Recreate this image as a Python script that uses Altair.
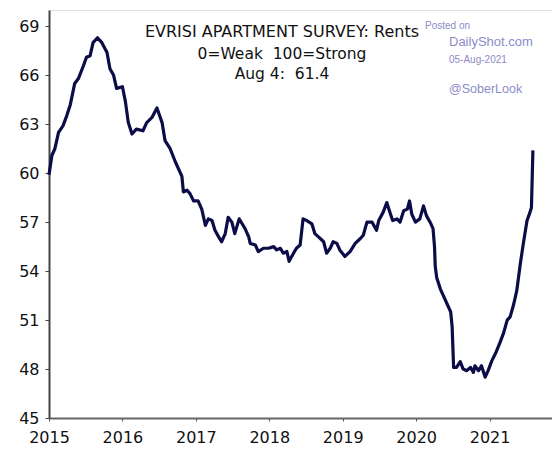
import altair as alt
import pandas as pd

# decimal-year positions and survey readings
years = [
    2015.00, 2015.04, 2015.08, 2015.13, 2015.19, 2015.24, 2015.29, 2015.35, 2015.40, 2015.47,
    2015.51, 2015.56, 2015.60, 2015.66, 2015.72, 2015.79, 2015.83, 2015.88, 2015.92, 2016.00,
    2016.04, 2016.08, 2016.13, 2016.19, 2016.28, 2016.33, 2016.40, 2016.47, 2016.54, 2016.58,
    2016.65, 2016.72, 2016.81, 2016.83, 2016.88, 2016.92, 2016.97, 2017.03, 2017.08, 2017.13,
    2017.17, 2017.22, 2017.26, 2017.31, 2017.35, 2017.40, 2017.44, 2017.49, 2017.53, 2017.59,
    2017.63, 2017.67, 2017.72, 2017.74, 2017.81, 2017.85, 2017.92, 2017.99, 2018.06, 2018.10,
    2018.15, 2018.19, 2018.24, 2018.27, 2018.33, 2018.37, 2018.42, 2018.46, 2018.51, 2018.58,
    2018.62, 2018.67, 2018.74, 2018.78, 2018.83, 2018.87, 2018.92, 2018.96, 2019.03, 2019.10,
    2019.17, 2019.24, 2019.28, 2019.33, 2019.40, 2019.46, 2019.49, 2019.55, 2019.60, 2019.65,
    2019.68, 2019.74, 2019.78, 2019.83, 2019.88, 2019.91, 2019.94, 2019.99, 2020.05, 2020.10,
    2020.14, 2020.19, 2020.23, 2020.25, 2020.26, 2020.28, 2020.33, 2020.37, 2020.42, 2020.47,
    2020.49, 2020.51, 2020.55, 2020.60, 2020.64, 2020.69, 2020.74, 2020.78, 2020.80, 2020.85,
    2020.89, 2020.94, 2020.98, 2021.03, 2021.08, 2021.14, 2021.19, 2021.24, 2021.28, 2021.33,
    2021.37, 2021.42, 2021.46, 2021.51, 2021.55, 2021.57, 2021.59,
]
rents = [
    59.9, 61.1, 61.5, 62.5, 62.9, 63.5, 64.2, 65.5, 65.8, 66.6,
    67.1, 67.2, 68.0, 68.3, 68.0, 67.4, 66.4, 66.0, 65.2, 65.3,
    64.4, 63.1, 62.4, 62.7, 62.6, 63.1, 63.4, 64.0, 63.1, 62.0,
    61.5, 60.7, 59.8, 58.85, 58.96, 58.75, 58.3, 58.3, 57.8, 56.8,
    57.2, 57.1, 56.5, 56.1, 55.8, 56.3, 57.3, 57.0, 56.3, 57.2,
    56.9, 56.6, 56.1, 55.7, 55.6, 55.2, 55.4, 55.4, 55.5, 55.3,
    55.4, 55.1, 55.2, 54.6, 55.1, 55.4, 55.6, 57.2, 57.1, 56.9,
    56.3, 56.1, 55.8, 55.1, 55.4, 55.8, 55.7, 55.3, 54.9, 55.2,
    55.7, 56.0, 56.2, 57.0, 57.0, 56.5, 57.1, 57.6, 58.2, 57.5,
    57.1, 57.2, 57.0, 57.7, 57.8, 58.3, 57.5, 57.0, 57.2, 58.0,
    57.4, 57.0, 56.6, 55.5, 54.3, 53.6, 52.9, 52.5, 52.0, 51.5,
    50.6, 48.1, 48.1, 48.45, 48.0, 47.9, 48.1, 47.8, 48.2, 47.9,
    48.2, 47.5, 47.9, 48.5, 48.95, 49.6, 50.2, 51.0, 51.2, 52.0,
    52.8, 54.5, 55.7, 57.1, 57.6, 57.9, 61.4,
]
x_ticks = [2015, 2016, 2017, 2018, 2019, 2020, 2021]
y_ticks = [45, 48, 51, 54, 57, 60, 63, 66, 69]

NB = "\u00a0"
title_lines = ["EVRISI APARTMENT SURVEY: Rents",
               "0=Weak" + NB + NB + "100=Strong",
               "Aug 4:" + NB + NB + "61.4"]
watermark = ["Posted on", "DailyShot.com", "05-Aug-2021", "@SoberLook"]

df = pd.DataFrame({"year": years, "value": rents})

W, H = 503, 408

line = alt.Chart(df).mark_line(color="#0c0c48", strokeWidth=3.2, strokeJoin="round").encode(
    x=alt.X("year:Q",
            scale=alt.Scale(domain=[2015, 2021.85], nice=False, zero=False),
            axis=alt.Axis(values=x_ticks, format="d", title=None, grid=False,
                          labelFont="DejaVu Sans", labelFontSize=16, labelColor="#111",
                          labelPadding=8, tickSize=3, tickColor="#555", domainColor="#666",
                          domainWidth=2.2, labelFlush=False)),
    y=alt.Y("value:Q",
            scale=alt.Scale(domain=[45, 70], nice=False, zero=False),
            axis=alt.Axis(values=y_ticks, title=None, grid=False,
                          labelFont="DejaVu Sans", labelFontSize=16, labelColor="#111",
                          labelPadding=6, tickSize=4, tickColor="#444", domainColor="#444",
                          domainWidth=2, labelFlush=False)),
)

def txt(s, x, y, size, color, align="center", font="DejaVu Sans"):
    return alt.Chart(pd.DataFrame({"t": [s]})).mark_text(
        align=align, baseline="alphabetic", fontSize=size, color=color, font=font
    ).encode(text="t:N", x=alt.value(x), y=alt.value(y))

layers = [
    line,
    txt(title_lines[0], 233, 27, 16, "#111"),
    txt(title_lines[1], 233, 48.5, 15.5, "#111"),
    txt(title_lines[2], 233, 68.5, 15.5, "#111"),
    txt(watermark[0], 376, 18.5, 10, "#8c8cc8", "left", "Liberation Sans"),
    txt(watermark[1], 400, 36, 13, "#8c8cc8", "left", "Liberation Sans"),
    txt(watermark[2], 400, 52.7, 10, "#8c8cc8", "left", "Liberation Sans"),
    txt(watermark[3], 400, 82.7, 12.5, "#8c8cc8", "left", "Liberation Sans"),
]

chart = alt.layer(*layers).properties(
    width=W, height=H,
    autosize=alt.AutoSizeParams(type="none"),
    padding={"left": 41, "top": 2, "right": 0, "bottom": 32},
).configure_view(stroke=None).configure(background="white")

chart.save("out.html", embed_options={"renderer": "svg", "actions": False})
